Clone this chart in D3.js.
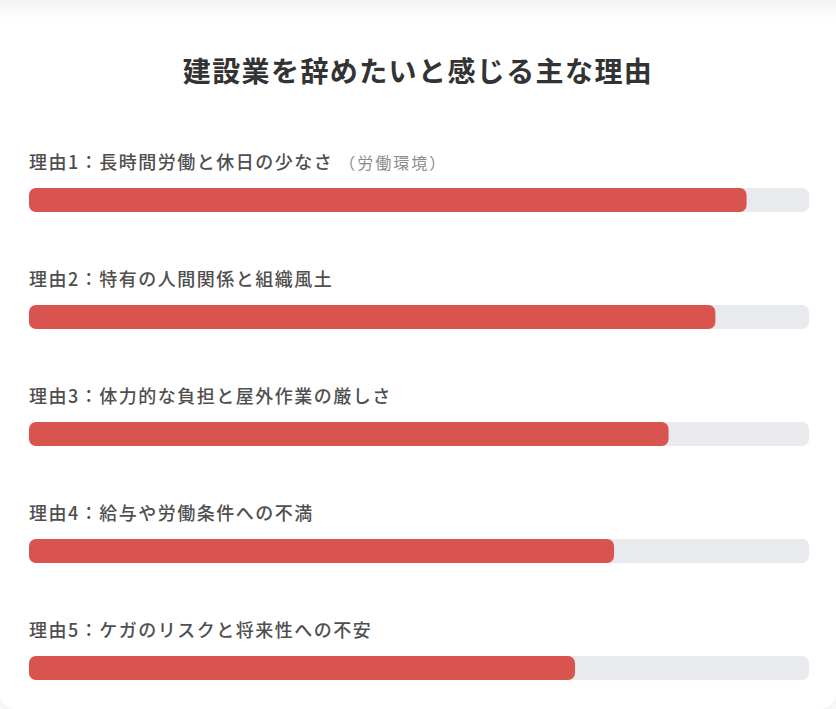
<!DOCTYPE html>
<html><head><meta charset="utf-8">
<script src="https://cdn.jsdelivr.net/npm/d3@7"></script>
<style>
html,body{margin:0;padding:0;background:#fbfbfb;}
svg{display:block;}
</style></head>
<body>
<svg id="chart" width="836" height="709"></svg>
<script>
const title = "建設業を辞めたいと感じる主な理由";
const labels = [
  "理由1：長時間労働と休日の少なさ",
  "理由2：特有の人間関係と組織風土",
  "理由3：体力的な負担と屋外作業の厳しさ",
  "理由4：給与や労働条件への不満",
  "理由5：ケガのリスクと将来性への不安"
];
const notes = ["（労働環境）", "", "", "", ""];
const values = [92, 88, 82, 75, 70];
const maxValue = 100;

const svg = d3.select("#chart");
const W = 836, H = 709;
const font = "'Noto Sans CJK JP','Noto Sans',sans-serif";

const defs = svg.append("defs");
const f = defs.append("filter").attr("id","sh").attr("x","-5%").attr("y","-5%").attr("width","110%").attr("height","110%");
f.append("feDropShadow").attr("dx",0).attr("dy",2).attr("stdDeviation",6).attr("flood-color","#000").attr("flood-opacity",0.05);
const lg = defs.append("linearGradient").attr("id","topfade").attr("x1",0).attr("y1",0).attr("x2",0).attr("y2",1);
lg.append("stop").attr("offset","0%").attr("stop-color","#f2f2f2");
lg.append("stop").attr("offset","100%").attr("stop-color","#ffffff").attr("stop-opacity",0);

svg.append("rect").attr("x",0).attr("y",-30).attr("width",W).attr("height",H+30)
  .attr("rx",16).attr("fill","#fff").attr("filter","url(#sh)");
svg.append("rect").attr("x",0).attr("y",0).attr("width",W).attr("height",30).attr("fill","url(#topfade)");

svg.append("text").attr("x",W/2).attr("y",82).attr("text-anchor","middle")
  .attr("font-family",font).attr("font-weight",700).attr("font-size",28)
  .attr("letter-spacing",1.4).attr("fill","#333").text(title);

const x = d3.scaleLinear().domain([0,maxValue]).range([29,809]);
const y = d3.scaleBand().domain(d3.range(labels.length)).range([130,715]);

const g = svg.selectAll("g.row").data(labels).join("g").attr("class","row")
  .attr("transform",(d,i)=>`translate(0,${y(i)})`);

const t = g.append("text").attr("x",29).attr("y",39)
  .attr("font-family",font).attr("font-size",18).attr("font-weight",500)
  .attr("letter-spacing",1.5).attr("fill","#4f4f4f");
t.append("tspan").text(d=>d);
t.append("tspan").attr("font-size",16).attr("font-weight",400).attr("fill","#8c8c8c").attr("dx",6)
  .attr("letter-spacing",2).text((d,i)=>notes[i]);

g.append("rect").attr("x",x(0)).attr("y",58).attr("width",x(maxValue)-x(0)).attr("height",24)
  .attr("rx",7).attr("fill","#e9eaed");
g.append("rect").attr("x",x(0)).attr("y",58).attr("width",(d,i)=>x(values[i])-x(0)).attr("height",24)
  .attr("rx",7).attr("fill","#d9534f");
</script>
</body></html>
